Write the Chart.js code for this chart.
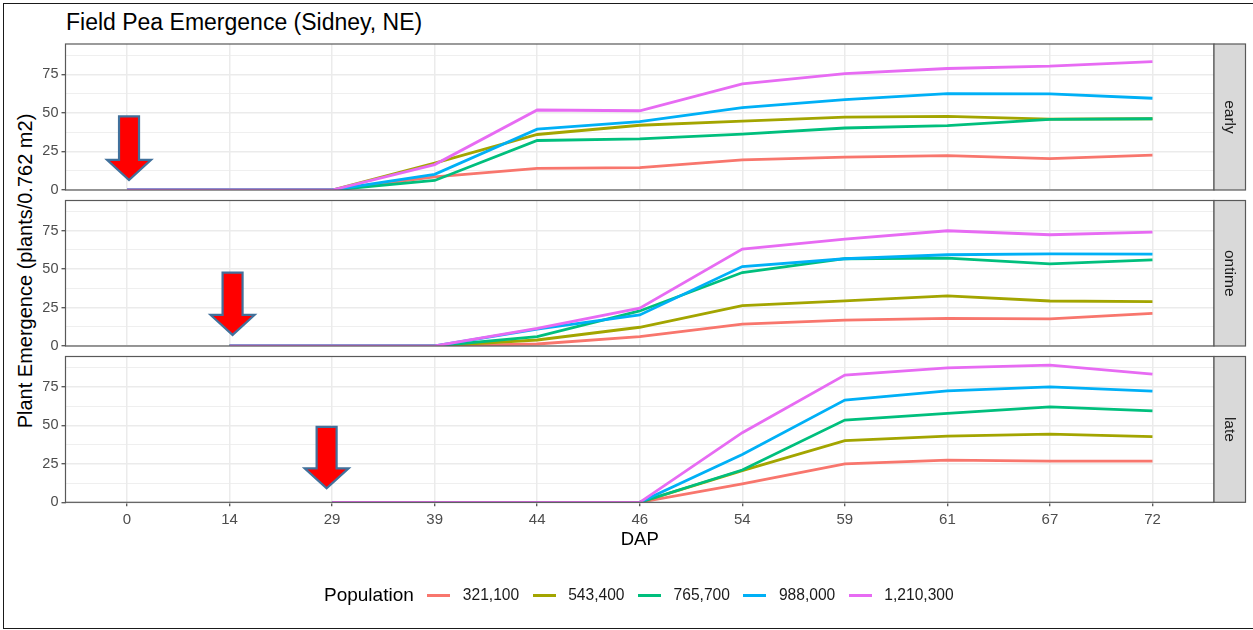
<!DOCTYPE html>
<html>
<head>
<meta charset="utf-8">
<script src="https://cdn.jsdelivr.net/npm/chart.js@4.4.1/dist/chart.umd.min.js"></script>
<style>
html,body{margin:0;padding:0;background:#fff;}
#wrap{position:relative;width:1253px;height:630px;overflow:hidden;font-family:"Liberation Sans",Arial,sans-serif;background:#fff;}
#frame{position:absolute;left:3px;top:3px;width:1262px;height:626px;border:1.5px solid #1a1a1a;box-sizing:border-box;}
canvas.panel{position:absolute;left:0;top:0;}
#title{position:absolute;left:66px;top:10.5px;font-size:23px;line-height:23px;color:#000;white-space:nowrap;}
#ylab{position:absolute;left:-175.3px;top:261px;width:400px;height:20px;font-size:20px;line-height:20px;text-align:center;color:#000;transform:rotate(-90deg);white-space:nowrap;}
#legend{position:absolute;left:324px;top:583px;height:24px;display:flex;align-items:center;white-space:nowrap;}
#legend .ttl{font-size:19px;color:#000;}
#legend .key{display:inline-block;width:23px;height:3px;margin-left:13.5px;}
#legend .lab{font-size:15.6px;color:#1a1a1a;margin-left:12.5px;}
</style>
</head>
<body>
<div id="wrap">
  <div id="frame"></div>
  <div id="title">Field Pea Emergence (Sidney, NE)</div>
  <div id="ylab">Plant Emergence (plants/0.762 m2)</div>
  <canvas class="panel" id="c0" width="1253" height="630"></canvas>
  <canvas class="panel" id="c1" width="1253" height="630"></canvas>
  <canvas class="panel" id="c2" width="1253" height="630"></canvas>
  <div id="legend"></div>
</div>
<script>
// ---------- data ----------
const dapLabels = ['0','14','29','39','44','46','54','59','61','67','72'];
const populations = ['321,100','543,400','765,700','988,000','1,210,300'];
const facetNames = ['early','ontime','late'];
const yTickValues = [0, 25, 50, 75];
const yMinorValues = [12.5, 37.5, 62.5, 87.5];

// early planting
const early_321100  = [0,0,0, 8.5,14.0,14.5,19.5,21.3,22.3,20.3,22.6];
const early_543400  = [0,0,0,17.4,36.0,42.0,44.7,47.3,47.7,46.0,46.2];
const early_765700  = [0,0,0, 6.2,32.1,33.2,36.3,40.2,41.7,45.8,46.2];
const early_988000  = [0,0,0,10.2,39.5,44.3,53.4,58.6,62.5,62.3,59.5];
const early_1210300 = [0,0,0,16.5,51.9,51.4,68.8,75.5,78.8,80.3,83.3];

// on-time planting
const ontime_321100  = [null,0,0,0, 1.3, 6.1,14.2,16.8,18.0,17.6,21.3];
const ontime_543400  = [null,0,0,0, 3.9,12.2,26.3,29.4,32.6,29.3,28.9];
const ontime_765700  = [null,0,0,0, 6.1,22.8,47.8,56.8,57.2,53.5,56.1];
const ontime_988000  = [null,0,0,0,11.0,20.2,51.7,56.8,59.4,60.0,59.8];
const ontime_1210300 = [null,0,0,0,11.5,24.6,63.1,69.6,75.0,72.4,74.1];

// late planting
const late_321100  = [null,null,0,0,0,0,11.9,24.9,27.4,26.8,26.8];
const late_543400  = [null,null,0,0,0,0,20.6,40.0,43.0,44.3,42.6];
const late_765700  = [null,null,0,0,0,0,21.0,53.4,57.7,62.0,59.4];
const late_988000  = [null,null,0,0,0,0,31.1,66.4,72.4,75.0,72.2];
const late_1210300 = [null,null,0,0,0,0,45.2,82.6,87.3,89.1,83.3];

// planting-date markers (category index of DAP)
const plantingIndex = [0, 1, 2];

// ---------- styles ----------
const seriesColors = ['#F8766D','#A3A500','#00BF7D','#00B0F6','#E76BF3'];
const panelData = [
  [early_321100, early_543400, early_765700, early_988000, early_1210300],
  [ontime_321100, ontime_543400, ontime_765700, ontime_988000, ontime_1210300],
  [late_321100, late_543400, late_765700, late_988000, late_1210300]
];
const panelBox = [[44,190],[200.5,346],[356.5,502.3]];
const arrowStyle = [
  {dx:2,   top:47.7, head:19.5, tip:6.5},
  {dx:3,   top:47.8, head:20.2, tip:7.2},
  {dx:-5.5,top:49.0, head:22.0, tip:9.1}
];
const FONT = '"Liberation Sans", Arial, sans-serif';
const W = 1253, H = 630, PANEL_RIGHT = 1214, STRIP_W = 31.5, X_AXIS_H = 50;

const facetPlugin = {
  id: 'facet',
  afterDatasetsDraw(chart, args, opts) {
    const ctx = chart.ctx, a = chart.chartArea;
    const xs = chart.scales.x, ys = chart.scales.y;
    // arrow
    const ar = opts.arrow;
    const cx = xs.getPixelForValue(opts.at) + ar.dx;
    const yT = ys.getPixelForValue(ar.top), yH = ys.getPixelForValue(ar.head), yP = ys.getPixelForValue(ar.tip);
    ctx.save();
    ctx.beginPath();
    ctx.moveTo(cx-10, yT); ctx.lineTo(cx+10, yT); ctx.lineTo(cx+10, yH);
    ctx.lineTo(cx+22, yH); ctx.lineTo(cx, yP); ctx.lineTo(cx-22, yH);
    ctx.lineTo(cx-10, yH); ctx.closePath();
    ctx.fillStyle = '#FF0000'; ctx.fill();
    ctx.lineWidth = 2.2; ctx.strokeStyle = '#41719C'; ctx.lineJoin = 'miter'; ctx.stroke();
    ctx.restore();
    // panel border
    ctx.save();
    ctx.strokeStyle = '#595959'; ctx.lineWidth = 1.2;
    ctx.strokeRect(a.left, a.top, a.right - a.left, a.bottom - a.top);
    // strip
    ctx.fillStyle = '#D9D9D9';
    ctx.fillRect(a.right, a.top, STRIP_W, a.bottom - a.top);
    ctx.strokeRect(a.right, a.top, STRIP_W, a.bottom - a.top);
    ctx.translate(a.right + STRIP_W/2, (a.top + a.bottom)/2);
    ctx.rotate(Math.PI/2);
    ctx.fillStyle = '#1A1A1A'; ctx.font = '15.5px ' + FONT;
    ctx.textAlign = 'center'; ctx.textBaseline = 'middle';
    ctx.fillText(opts.name, 0, 0);
    ctx.restore();
  }
};

function makePanel(idx) {
  const showX = idx === 2;
  const [top, bottom] = panelBox[idx];
  const datasets = panelData[idx].map((vals, i) => ({
    label: populations[i],
    data: vals.map((v, k) => ({x: k, y: v})),
    borderColor: seriesColors[i],
    backgroundColor: seriesColors[i],
    borderWidth: 2.8,
    pointRadius: 0,
    tension: 0,
    fill: false,
    spanGaps: false,
    order: populations.length - 1 - i
  }));
  return new Chart(document.getElementById('c' + idx), {
    type: 'line',
    data: {datasets},
    plugins: [facetPlugin],
    options: {
      responsive: false,
      animation: false,
      events: [],
      layout: {padding: {left: 0, right: W - PANEL_RIGHT, top: top, bottom: H - bottom - (showX ? X_AXIS_H : 0)}},
      plugins: {
        legend: {display: false},
        tooltip: {enabled: false},
        facet: {name: facetNames[idx], at: plantingIndex[idx], arrow: arrowStyle[idx]}
      },
      scales: {
        x: {
          type: 'linear',
          min: -0.6, max: dapLabels.length - 1 + 0.6,
          afterBuildTicks: s => { s.ticks = dapLabels.map((_, i) => ({value: i})); },
          afterFit: s => { s.height = showX ? X_AXIS_H : 0; },
          border: {display: false},
          grid: {color: '#EBEBEB', lineWidth: 1.5, drawTicks: showX, tickLength: 4, tickColor: '#333333', tickWidth: 1.1},
          ticks: {display: showX, autoSkip: false, maxRotation: 0, padding: 4.5,
                  color: '#4D4D4D', font: {family: FONT, size: 15},
                  callback: v => dapLabels[v]},
          title: {display: showX, text: 'DAP', color: '#000', font: {family: FONT, size: 18.5}, padding: {top: 0, bottom: 1}}
        },
        y: {
          type: 'linear',
          min: 0, max: 94.7,
          afterBuildTicks: s => { s.ticks = yTickValues.concat(yMinorValues).sort((a,b)=>a-b).map(v => ({value: v})); },
          afterFit: s => { s.width = 65.5; },
          border: {display: false},
          grid: {
            color: '#EBEBEB',
            lineWidth: c => yTickValues.includes(c.tick.value) ? 1.5 : 0.8,
            tickColor: c => yTickValues.includes(c.tick.value) ? '#333333' : 'rgba(0,0,0,0)',
            tickLength: 4, tickWidth: 1.1
          },
          ticks: {padding: 3, color: '#4D4D4D', font: {family: FONT, size: 14.5},
                  callback: v => yTickValues.includes(v) ? String(v) : ''}
        }
      }
    }
  });
}
[0,1,2].forEach(makePanel);

// legend
const lg = document.getElementById('legend');
const t = document.createElement('span'); t.className = 'ttl'; t.textContent = 'Population'; lg.appendChild(t);
populations.forEach((p, i) => {
  const k = document.createElement('span'); k.className = 'key'; k.style.background = seriesColors[i]; lg.appendChild(k);
  const l = document.createElement('span'); l.className = 'lab'; l.textContent = p; lg.appendChild(l);
});
</script>
</body>
</html>
